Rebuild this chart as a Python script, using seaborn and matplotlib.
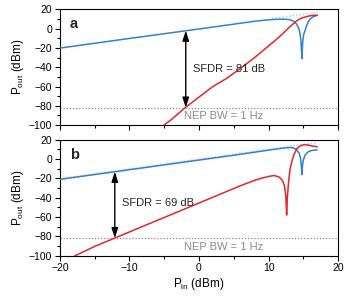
import numpy as np
import pandas as pd
import matplotlib
matplotlib.use('Agg')
import matplotlib.pyplot as plt
import seaborn as sns
from matplotlib.ticker import MultipleLocator

sns.set_theme(style='ticks')
plt.rcParams['font.family'] = ['Liberation Sans', 'DejaVu Sans']
plt.rcParams['mathtext.fontset'] = 'custom'
plt.rcParams['mathtext.rm'] = 'Liberation Sans'
plt.rcParams['mathtext.it'] = 'Liberation Sans:italic'

BLUE = '#3282c6'
RED = '#e2262b'
FIT = '#a9cbea'
GREY = '#8a8a8a'

# panel a, fundamental (blue)
a_fund_x = [-20, -10, 0, 5, 8, 9, 10, 11, 12, 12.6, 13, 13.5, 14, 14.3, 14.5, 14.65,
            14.75, 14.8, 14.85, 14.92, 15.05, 15.25, 15.5, 15.7, 16.0, 16.4, 17.0]
a_fund_y = [-20.2, -10.2, -0.4, 4.6, 7.6, 8.4, 9.1, 9.6, 9.8, 9.6, 9.3, 8.0, 5.0, 1.0, -4.0, -12.0,
            -24.0, -31.0, -22.0, -13.0, -6.0, -2.0, 3.5, 7.0, 10.0, 12.2, 13.8]
# panel a, intermodulation (red)
a_imd_x = [-5.3, -4, -2, 0, 2, 4, 6, 8, 10, 11, 12, 13, 14, 14.5, 15, 15.5, 16, 16.5, 17]
a_imd_y = [-101.5, -94.5, -82, -71, -60, -51.5, -41, -30, -18, -12, -5.5, 1.5, 7.8, 10, 11.5,
           12.5, 13.3, 13.8, 13.8]
a_fit_x = [10.5, 17]
a_fit_y = [10.6, 16.9]

# panel b
b_fund_x = [-20, -10, 0, 5, 10, 12, 13, 13.5, 14, 14.4, 14.6, 14.72, 14.8, 14.88, 15.0,
            15.25, 15.6, 15.9, 16.4, 17.0]
b_fund_y = [-21, -11, -1, 4, 9.3, 11.3, 12, 11.8, 10, 6, 1, -7, -16, -7, -1,
            4, 7, 8.3, 9.2, 9.4]
b_imd_x = [-17.9, -15, -10, -5, 0, 4, 6, 8, 9, 10, 10.8, 11.5, 12, 12.3, 12.5, 12.6, 12.7,
           12.9, 13.1, 13.4, 13.7, 14.05, 14.5, 15, 15.5, 16, 17]
b_imd_y = [-100.5, -90.5, -75.5, -60.5, -45.5, -33.5, -27.5, -22, -19.8, -18, -17, -18.5, -22,
           -28, -40, -58, -40, -22, -10, -1, 5.5, 10.5, 13.5, 14.8, 14.8, 14, 12.7]
b_fit_x = [-20, 17]
b_fit_y = [-20.2, 17.2]

noise_floor = -82
panels = [
    dict(label='a', fx=a_fund_x, fy=a_fund_y, ix=a_imd_x, iy=a_imd_y, tx=a_fit_x, ty=a_fit_y,
         arrow_x=-1.9, arrow_top=-2.0, sfdr='SFDR = 81 dB', sx=-0.9, sy=-42),
    dict(label='b', fx=b_fund_x, fy=b_fund_y, ix=b_imd_x, iy=b_imd_y, tx=b_fit_x, ty=b_fit_y,
         arrow_x=-12.1, arrow_top=-13.0, sfdr='SFDR = 69 dB', sx=-11.1, sy=-46),
]

fig = plt.figure(figsize=(3.5, 3.0), dpi=100)
boxes = [[0.171, 0.583, 0.795, 0.386], [0.171, 0.148, 0.795, 0.386]]

for i, (p, box) in enumerate(zip(panels, boxes)):
    ax = fig.add_axes(box)
    ax.axhline(noise_floor, color=GREY, lw=0.9, ls=(0, (1, 1.5)))
    sns.lineplot(x=p['tx'], y=p['ty'], ax=ax, color=FIT, lw=1.0, ls=(0, (1, 1.5)),
                 sort=False, estimator=None, zorder=2)
    sns.lineplot(x=p['fx'], y=p['fy'], ax=ax, color=BLUE, lw=1.1, sort=False, estimator=None, zorder=3)
    sns.lineplot(x=p['ix'], y=p['iy'], ax=ax, color=RED, lw=1.1, sort=False, estimator=None, zorder=3)
    ax.annotate('', xy=(p['arrow_x'], noise_floor), xytext=(p['arrow_x'], p['arrow_top']),
                arrowprops=dict(arrowstyle='<|-|>,head_length=0.5,head_width=0.16',
                                color='black', lw=1.0, shrinkA=0, shrinkB=0))
    ax.text(p['sx'], p['sy'], p['sfdr'], fontsize=8, va='center', ha='left')
    ax.text(-2.1, -90.8, 'NEP BW = 1 Hz', fontsize=8, va='center', ha='left', color=GREY)
    ax.text(0.035, 0.87, p['label'], transform=ax.transAxes, fontsize=10.5, fontweight='bold',
            va='center', ha='left')
    ax.set_xlim(-20, 20)
    ax.set_ylim(-100, 20)
    ax.xaxis.set_major_locator(MultipleLocator(10))
    ax.xaxis.set_minor_locator(MultipleLocator(5))
    ax.yaxis.set_major_locator(MultipleLocator(20))
    ax.yaxis.set_minor_locator(MultipleLocator(10))
    ax.tick_params(which='major', length=3.5, width=0.8, labelsize=7.5, pad=2, color='black',
                   labelcolor='black')
    ax.tick_params(which='minor', length=2, width=0.8, color='black')
    for s in ax.spines.values():
        s.set_linewidth(0.8)
        s.set_color('black')
        s.set_visible(True)
    ax.set_ylabel(r'P$_\mathrm{out}$ (dBm)', fontsize=8.5, labelpad=2, color='black')
    if i == 0:
        ax.set_xticklabels([])
        ax.set_xlabel('')
    else:
        ax.set_xlabel(r'P$_\mathrm{in}$ (dBm)', fontsize=8.5, labelpad=2, color='black')

fig.savefig('out.png', dpi=100)
